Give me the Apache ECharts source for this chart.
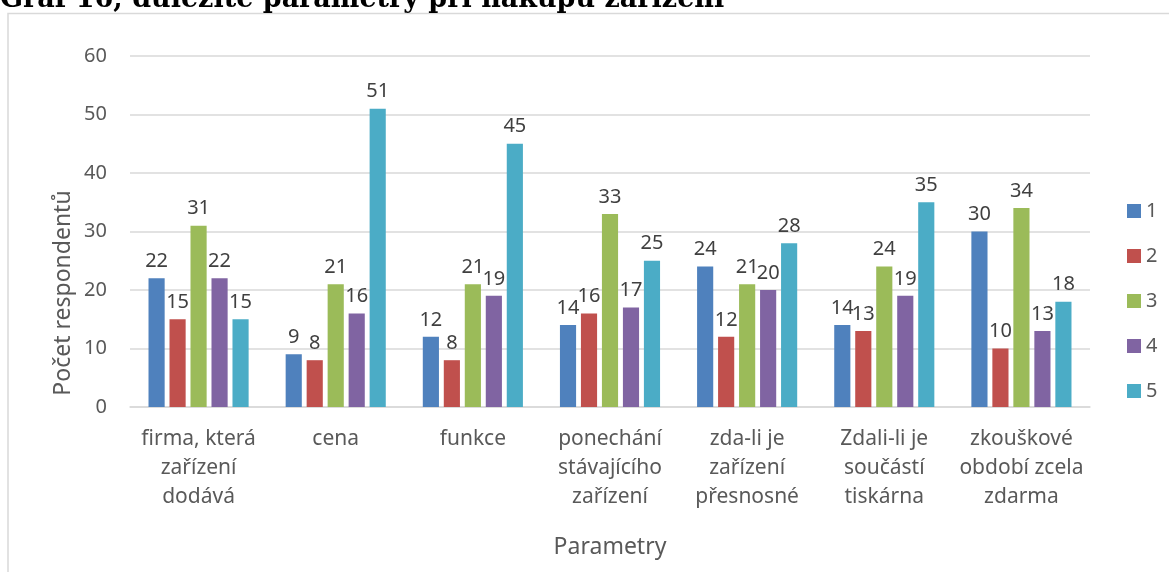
<!DOCTYPE html>
<html>
<head>
<meta charset="utf-8">
<script src="https://cdn.jsdelivr.net/npm/echarts@6/dist/echarts.min.js"></script>
<style>
  html, body { margin: 0; padding: 0; background: #fff; }
  #chart { width: 1169px; height: 572px; }
</style>
</head>
<body>
<div id="chart"></div>
<script>
// kategorie a hodnoty z grafu
var categories = [
    'firma, která\nzařízení\ndodává',
    'cena',
    'funkce',
    'ponechání\nstávajícího\nzařízení',
    'zda-li je\nzařízení\npřesnosné',
    'Zdali-li je\nsoučástí\ntiskárna',
    'zkouškové\nobdobí zcela\nzdarma'
];
var serie1 = [22, 9, 12, 14, 24, 14, 30];
var serie2 = [15, 8, 8, 16, 12, 13, 10];
var serie3 = [31, 21, 21, 33, 21, 24, 34];
var serie4 = [22, 16, 19, 17, 20, 19, 13];
var serie5 = [15, 51, 45, 25, 28, 35, 18];
var seriesNames = ['1', '2', '3', '4', '5'];
var yTicks = [0, 10, 20, 30, 40, 50, 60];

var colors = ['#4F81BD', '#C0504D', '#9BBB59', '#8064A2', '#4BACC6'];
var font = '"Noto Sans", sans-serif';

var myChart = echarts.init(document.getElementById('chart'));

var dataSets = [serie1, serie2, serie3, serie4, serie5];
var series = [];
for (var i = 0; i < dataSets.length; i++) {
    series.push({
        name: seriesNames[i],
        type: 'bar',
        data: dataSets[i],
        barGap: '30%',
        barCategoryGap: '27%',
        itemStyle: { color: colors[i] },
        label: {
            show: true,
            position: 'top',
            distance: 7,
            color: '#404040',
            fontSize: 20,
            fontFamily: font
        }
    });
}

var option = {
    animation: false,
    backgroundColor: '#fff',
    color: colors,
    graphic: [
        {
            type: 'rect',
            shape: { x: 8, y: 13.5, width: 1200, height: 600 },
            style: { fill: 'none', stroke: '#d9d9d9', lineWidth: 1.5 }
        },
        {
            type: 'text',
            x: 0,
            y: 0,
            style: {
                text: 'Graf 16, důležité parametry při nákupu zařízení',
                font: 'bold 27px "DejaVu Serif", serif',
                fill: '#000',
                align: 'left',
                verticalAlign: 'middle'
            }
        },
        {
            // název osy Y (v originále posunutý dolů)
            type: 'text',
            x: 63,
            y: 293,
            rotation: Math.PI / 2,
            style: {
                text: 'Počet respondentů',
                font: '23px "Noto Sans", sans-serif',
                fill: '#595959',
                align: 'center',
                verticalAlign: 'middle'
            }
        }
    ],
    grid: { left: 130, right: 79, top: 56, bottom: 165 },
    legend: {
        orient: 'vertical',
        left: 1122,
        top: 196,
        itemWidth: 14,
        itemHeight: 14,
        itemGap: 25,
        icon: 'rect',
        textStyle: { color: '#595959', fontSize: 20, fontFamily: font },
        data: seriesNames
    },
    xAxis: {
        type: 'category',
        data: categories,
        name: 'Parametry',
        nameLocation: 'middle',
        nameGap: 129,
        nameTextStyle: { color: '#595959', fontSize: 23, fontFamily: font },
        axisLine: { lineStyle: { color: '#d9d9d9', width: 1.5 } },
        axisTick: { show: false },
        axisLabel: {
            interval: 0,
            color: '#595959',
            fontSize: 21,
            fontFamily: font,
            lineHeight: 29,
            margin: 18
        }
    },
    yAxis: {
        type: 'value',
        min: yTicks[0],
        max: yTicks[yTicks.length - 1],
        interval: 10,
        axisLine: { show: false },
        axisTick: { show: false },
        splitLine: { lineStyle: { color: '#d9d9d9', width: 1.5 } },
        axisLabel: {
            color: '#595959',
            fontSize: 20,
            fontFamily: font,
            margin: 23
        }
    },
    series: series
};

myChart.setOption(option);
</script>
</body>
</html>
